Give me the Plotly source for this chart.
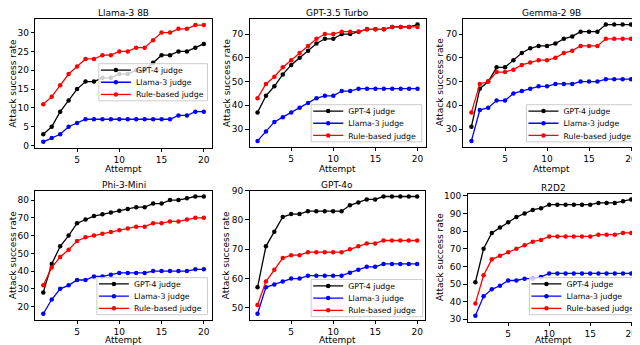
import plotly.graph_objects as go

# x values shared by all panels
attempts = list(range(1, 21))

# Llama-3 8B
llama8b_gpt4 = [3, 5, 9, 12, 15, 17, 17, 18, 18, 19, 19, 20, 20, 22, 24, 24, 25, 25, 26, 27]
llama8b_llama = [1, 2, 3, 5, 6, 7, 7, 7, 7, 7, 7, 7, 7, 7, 7, 7, 8, 8, 9, 9]
llama8b_rule = [11, 13, 16, 19, 21, 23, 23, 24, 24, 25, 25, 26, 26, 28, 30, 30, 31, 31, 32, 32]

# GPT-3.5 Turbo
gpt35_gpt4 = [37, 44, 48, 53, 57, 60, 63, 66, 68, 68, 70, 70, 71, 72, 72, 72, 73, 73, 73, 74]
gpt35_llama = [25, 29, 33, 35, 37, 39, 41, 43, 44, 44, 46, 46, 47, 47, 47, 47, 47, 47, 47, 47]
gpt35_rule = [43, 49, 52, 56, 59, 62, 65, 68, 70, 70, 71, 71, 71, 72, 72, 72, 73, 73, 73, 73]

# Gemma-2 9B
gemma_gpt4 = [31, 47, 50, 56, 56, 59, 62, 64, 65, 65, 66, 68, 69, 71, 71, 71, 74, 74, 74, 74]
gemma_llama = [25, 38, 39, 42, 42, 45, 46, 47, 48, 48, 49, 49, 49, 50, 50, 50, 51, 51, 51, 51]
gemma_rule = [37, 49, 50, 54, 54, 55, 57, 58, 59, 59, 60, 62, 63, 65, 65, 65, 68, 68, 68, 68]

# Phi-3-Mini
phi_gpt4 = [28, 44, 54, 60, 67, 69, 71, 72, 73, 74, 75, 76, 76, 78, 78, 80, 80, 81, 82, 82]
phi_llama = [16, 24, 30, 32, 35, 35, 37, 37, 38, 39, 39, 39, 39, 40, 40, 40, 40, 40, 41, 41]
phi_rule = [32, 42, 48, 52, 57, 59, 60, 61, 62, 63, 64, 65, 65, 67, 67, 68, 68, 69, 70, 70]

# GPT-4o
gpt4o_gpt4 = [57, 71, 76, 81, 82, 82, 83, 83, 83, 83, 83, 85, 86, 87, 87, 88, 88, 88, 88, 88]
gpt4o_llama = [48, 57, 58, 59, 60, 60, 61, 61, 61, 61, 61, 62, 63, 64, 64, 65, 65, 65, 65, 65]
gpt4o_rule = [51, 59, 63, 67, 68, 68, 69, 69, 69, 69, 69, 70, 71, 72, 72, 73, 73, 73, 73, 73]

# R2D2
r2d2_gpt4 = [51, 70, 79, 82, 85, 88, 90, 92, 93, 95, 95, 95, 95, 95, 95, 96, 96, 96, 97, 98]
r2d2_llama = [32, 43, 47, 49, 52, 52, 53, 53, 54, 56, 56, 56, 56, 56, 56, 56, 56, 56, 56, 56]
r2d2_rule = [39, 55, 64, 66, 68, 70, 72, 74, 75, 77, 77, 77, 77, 77, 77, 78, 78, 78, 79, 79]

titles = ["Llama-3 8B", "GPT-3.5 Turbo", "Gemma-2 9B", "Phi-3-Mini", "GPT-4o", "R2D2"]
judges = ["GPT-4 judge", "Llama-3 judge", "Rule-based judge"]
colors = ["#000000", "#0000ff", "#ff0000"]

panels = [
    (llama8b_gpt4, llama8b_llama, llama8b_rule),
    (gpt35_gpt4, gpt35_llama, gpt35_rule),
    (gemma_gpt4, gemma_llama, gemma_rule),
    (phi_gpt4, phi_llama, phi_rule),
    (gpt4o_gpt4, gpt4o_llama, gpt4o_rule),
    (r2d2_gpt4, r2d2_llama, r2d2_rule),
]

# the page body keeps an 8px margin, so squeeze the layout into what is left
W, H = 640, 345
OFF = 8
SX = (W - OFF) / W
SY = (H - OFF) / H


def px_x(v):
    return v * SX / W


def px_y(v):
    return 1 - v * SY / H


# frame boxes in window pixels: (left, right, top, bottom)
frames = [
    (27.6, 206.4, 11.5, 143),
    (244.6, 422.8, 11, 142),
    (461.2, 639.0, 11, 142),
    (27.6, 206.4, 187, 319),
    (244.6, 422.4, 187, 319),
    (465.4, 639.0, 190, 321),
]
# legend boxes in window pixels: (left, top, right, bottom)
legend_boxes = [
    (101, 57, 202, 95),
    (316, 99, 419, 137),
    (534, 99, 636, 137),
    (99, 276, 202, 314),
    (316, 278, 420, 316),
    (537, 276, 637, 314),
]
# centre of the y-axis label, centre of the "Attempt" label, centre of the title
ylabel_x = [6, 221, 437, 5, 221, 437]
xlabel_y = [164.5, 164.5, 164.5, 340, 340, 340]
title_y = [5.5, 5.5, 5.5, 181, 181, 184]
ydticks = [5, 10, 10, 10, 10, 10]

FONT = "DejaVu Sans"
fig = go.Figure()
layout = dict(
    width=W, height=H,
    margin=dict(l=0, r=0, t=0, b=0),
    paper_bgcolor="white", plot_bgcolor="white",
    font=dict(family=FONT, size=9, color="black"),
    showlegend=True,
    annotations=[], shapes=[],
)

k = 0
for i, (series, title) in enumerate(zip(panels, titles)):
    n = i + 1
    xa = "x" if n == 1 else f"x{n}"
    ya = "y" if n == 1 else f"y{n}"
    bl, bt, br, bb = legend_boxes[i]
    for j, (vals, name, col) in enumerate(zip(series, judges, colors)):
        k += 1
        lg = "legend" if k == 1 else f"legend{k}"
        fig.add_trace(go.Scatter(
            x=attempts, y=vals, name=name, mode="lines+markers",
            line=dict(color=col, width=1.3),
            marker=dict(color=col, size=4.5),
            xaxis=xa, yaxis=ya, legend=lg, showlegend=True,
        ))
        # one legend per entry so the entries can sit close together
        layout[lg] = dict(
            x=px_x(bl - 12), y=px_y(bt + 6.5 + 12.5 * j), xanchor="left", yanchor="middle",
            bgcolor="rgba(0,0,0,0)", borderwidth=0,
            font=dict(size=7.8), itemwidth=30,
        )
    layout["shapes"].append(dict(
        type="rect", xref="paper", yref="paper", layer="above",
        x0=px_x(bl - 9), x1=px_x(br), y0=px_y(bb), y1=px_y(bt),
        line=dict(color="#cccccc", width=1), fillcolor="rgba(255,255,255,0.8)",
    ))
    l, r, t, b = frames[i]
    allv = [v for s in series for v in s]
    lo, hi = min(allv), max(allv)
    pad = (hi - lo) * 0.05
    axis_common = dict(
        showline=True, mirror=True, linecolor="black", linewidth=1,
        ticks="outside", ticklen=3.5, tickwidth=1, tickcolor="black",
        showgrid=False, zeroline=False, automargin=False,
        tickfont=dict(size=9),
    )
    layout["xaxis" if n == 1 else f"xaxis{n}"] = dict(
        domain=[px_x(l), px_x(r)], anchor=ya,
        range=[0.05, 20.95], tickvals=[5, 10, 15, 20],
        **axis_common,
    )
    layout["yaxis" if n == 1 else f"yaxis{n}"] = dict(
        domain=[px_y(b), px_y(t)], anchor=xa,
        range=[lo - pad, hi + pad], dtick=ydticks[i], tick0=0,
        **axis_common,
    )
    layout["annotations"] += [
        dict(text=title, x=px_x((l + r) / 2), y=px_y(title_y[i]),
             xanchor="center", yanchor="middle"),
        dict(text="Attempt", x=px_x((l + r) / 2), y=px_y(xlabel_y[i]),
             xanchor="center", yanchor="middle"),
        dict(text="Attack success rate", x=px_x(ylabel_x[i]), y=px_y((t + b) / 2),
             xanchor="center", yanchor="middle", textangle=-90),
    ]

for a in layout["annotations"]:
    a.update(xref="paper", yref="paper", showarrow=False, font=dict(size=9))

fig.update_layout(**layout)
fig.write_html("out.html")
